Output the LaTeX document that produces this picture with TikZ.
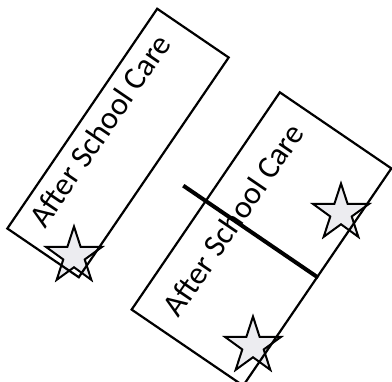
\documentclass[tikz,border=0pt]{standalone}
\usepackage{fontspec}
\setmainfont{Carlito}
\usetikzlibrary{calc,shapes.geometric}
\definecolor{starfill}{HTML}{ECECF0}

\tikzset{
  carebox/.style={draw,line width=2.2pt,inner sep=0pt,rotate=55.7},
  carelabel/.style={rotate=55.7,font=\fontsize{32}{37}\selectfont,inner sep=0pt},
  badge/.style={star,star points=5,star point ratio=2.618,minimum size=59pt,inner sep=0pt,draw,line width=2pt,fill=starfill}
}

\begin{document}
\begin{tikzpicture}[x=1pt,y=-1pt]
  \useasboundingbox (0,0) rectangle (392,382);
  % stars first, box outlines run over them
  \foreach \x/\y [count=\i] in {74/256,253/346,341/213}{\node[badge] (star\i) at (\x,\y) {};}
  \node[carebox,minimum width=266pt,minimum height=86.5pt] (care1) at (118,143) {};
  \node[carebox,minimum width=263pt,minimum height=135pt] (care2) at (261.5,239) {};
  \node[carelabel] (label1) at ($(care1.center)!0.5!(care1.north)$) {After School Care};
  \node[carelabel] (label2) at ($(care2.center)!0.5!(care2.north)$) {After School Care};
  % divider across the lower box
  \draw[line width=4pt] ($(care2.south)!1.19!(care2.north)$) -- (care2.south);
\end{tikzpicture}
\end{document}
